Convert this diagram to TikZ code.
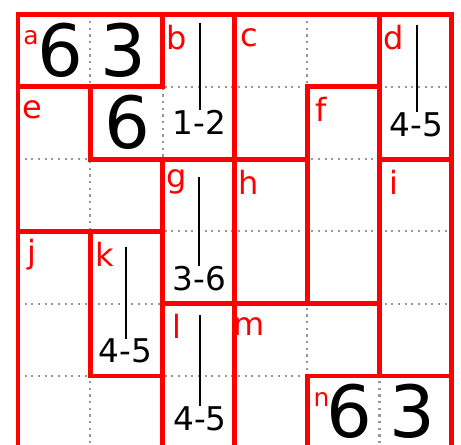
\documentclass[tikz,border=0pt]{standalone}
\usepackage{fontspec}
\setmainfont{DejaVu Sans}
\definecolor{dotgray}{RGB}{150,150,150}
\begin{document}
\begin{tikzpicture}[x=0.75pt,y=-0.75pt,
  redline/.style={draw=red,line width=3.7pt,line cap=rect,line join=miter},
  dotline/.style={draw=dotgray,line width=1.6pt,dash pattern=on 1.6pt off 3.4pt},
  lbl/.style={text=red,font=\fontsize{24}{24}\selectfont,inner sep=0pt,anchor=center},
  slbl/.style={text=red,font=\fontsize{18.75}{19}\selectfont,inner sep=0pt,anchor=center},
  bigdigit/.style={font=\fontsize{54}{54}\selectfont,inner sep=0pt,anchor=center},
  rng/.style={font=\fontsize{24.5}{25}\selectfont,inner sep=0pt,anchor=base},
  rline/.style={draw=black,line width=1.7pt}]
\clip (0,0) rectangle (461,445);
\fill[white] (0,0) rectangle (461,445);
\foreach \i in {0,...,6}{\foreach \j in {0,...,6}{\coordinate (g\i\j) at ({18+72.3*\i},{14.5+72.3*\j});}}
% dotted grid
\foreach \i in {1,...,5}{
  \draw[dotline] (g\i0) -- (g\i6);
  \draw[dotline] (g0\i) -- (g6\i);
}
% red region borders
\draw[redline] (g06) -- (g00) -- (g60) -- (g66);
\draw[redline] (g11) -- (g12);
\draw[redline] (g13) -- (g15);
\draw[redline] (g20) -- (g21);
\draw[redline] (g22) -- (g26);
\draw[redline] (g30) -- (g36);
\draw[redline] (g41) -- (g44);
\draw[redline] (g45) -- (g46);
\draw[redline] (g50) -- (g55);
\draw[redline] (g01) -- (g21);
\draw[redline] (g41) -- (g51);
\draw[redline] (g12) -- (g42);
\draw[redline] (g52) -- (g62);
\draw[redline] (g03) -- (g23);
\draw[redline] (g24) -- (g54);
\draw[redline] (g15) -- (g25);
\draw[redline] (g45) -- (g65);
% region letters
\node[slbl] (la) at (31,37.5) {a};
\node[lbl] (lb) at (176.6,37.5) {b};
\node[lbl] (lc) at (248.9,37.5) {c};
\node[lbl] (ld) at (393.5,37.5) {d};
\node[lbl] (le) at (32,109.8) {e};
\node[lbl] (lf) at (321.2,109.8) {f};
\node[lbl] (lg) at (176.6,182.1) {g};
\node[lbl] (lh) at (248.9,182.1) {h};
\node[lbl] (li) at (393.5,182.1) {i};
\node[lbl] (lj) at (32,254.4) {j};
\node[lbl] (lk) at (104.3,254.4) {k};
\node[lbl] (ll) at (176.6,326.7) {l};
\node[lbl] (lm) at (248.9,326.7) {m};
\node[slbl] (ln) at (321.5,399) {n};
% given digits
\node[bigdigit] (da6) at (60.5,50) {6};
\node[bigdigit] (da3) at (123.5,50) {3};
\node[bigdigit] (db6) at (127.5,122.5) {6};
\node[bigdigit] (dn6) at (349.5,411) {6};
\node[bigdigit] (dn3) at (412.5,411) {3};
% ranges
\node[rng] (rb) at (199.5,135) {1-2};
\node[rng] (rd) at (416.5,136.5) {4-5};
\node[rng] (rg) at (199.5,290.5) {3-6};
\node[rng] (rk) at (125.5,363) {4-5};
\node[rng] (rl) at (200,430.5) {4-5};
\coordinate (sb) at (200,23);
\coordinate (sd) at (417,25);
\coordinate (sg) at (199.3,177);
\coordinate (sk) at (125.7,246.7);
\coordinate (sl) at (200,315);
\draw[rline] (sb) -- (sb |- rb.north);
\draw[rline] (sd) -- (sd |- rd.north);
\draw[rline] (sg) -- (sg |- rg.north);
\draw[rline] (sk) -- (sk |- rk.north);
\draw[rline] (sl) -- (sl |- rl.north);
\end{tikzpicture}
\end{document}
